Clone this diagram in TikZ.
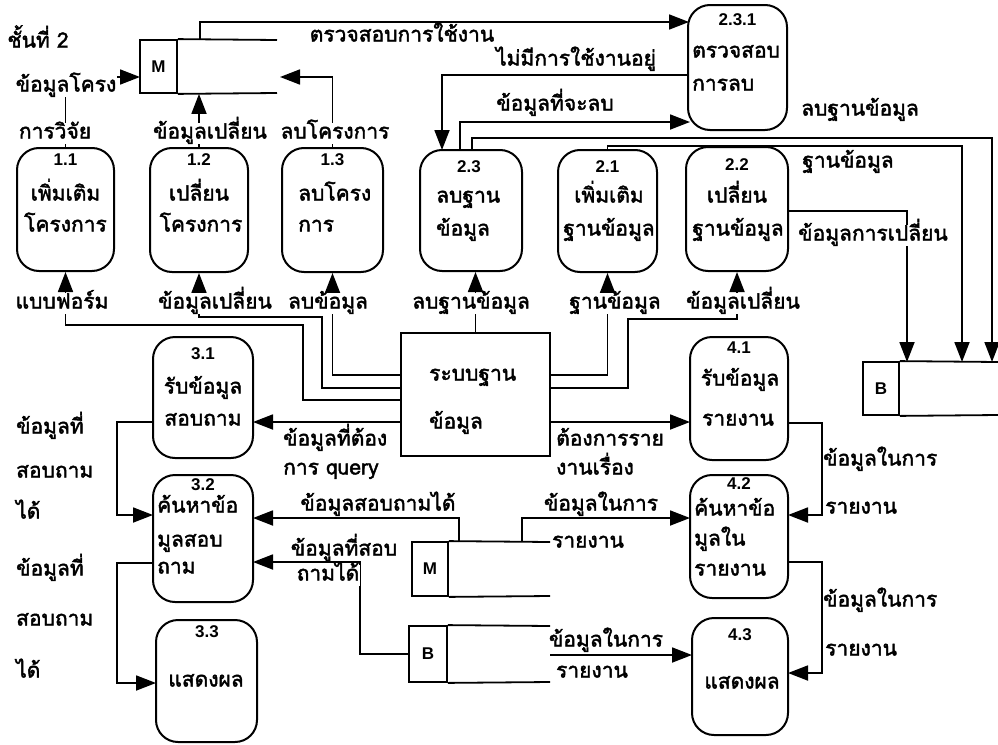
\documentclass[tikz,border=0pt]{standalone}
\usepackage{fontspec}
\newfontfamily\thai[Script=Thai,FakeBold=2]{Loma}
\newfontfamily\lat{Liberation Sans}
\usetikzlibrary{arrows.meta}
\newcommand\mkproc[5]{\node[proc,minimum width=#4pt,minimum height=#5pt] (#1) at (#2,#3) {};}
\begin{document}
\begin{tikzpicture}[x=1pt,y=-1pt,
 proc/.style={draw,line width=2pt,rounded corners=22pt,inner sep=0pt},
 store/.style={draw,line width=1.8pt,inner sep=0pt,font=\lat\bfseries\fontsize{17}{19}\selectfont},
 flow/.style={line width=1.8pt,-{Triangle[length=20pt,width=15pt]}},
 plain/.style={line width=1.8pt},
 txt/.style={font=\thai\fontsize{21}{23}\selectfont,inner sep=1pt,text height=15pt,text depth=4pt},
 wtxt/.style={txt,fill=white},
 num/.style={font=\lat\bfseries\fontsize{17}{19}\selectfont,inner sep=1pt},
]
\useasboundingbox (0,0) rectangle (998,744);

% ---------- processes ----------
\mkproc{p11}{65.5}{209.5}{97}{123}
\mkproc{p12}{199}{210}{98}{124}
\mkproc{p13}{332.5}{210}{101}{124}
\mkproc{p23}{471}{210.5}{102}{121}
\mkproc{p21}{607.5}{211}{99}{122}
\mkproc{p22}{737}{209}{102}{124}
\mkproc{p231}{737.5}{67.5}{99}{125}
\mkproc{p31}{203}{397.5}{100}{121}
\mkproc{p32}{203}{538.5}{100}{127}
\mkproc{p33}{206.5}{681}{101}{122}
\mkproc{p41}{739}{398.5}{98}{123}
\mkproc{p42}{739}{536.5}{98}{123}
\mkproc{p43}{740}{676.5}{96}{117}

% database system box
\node[draw,line width=1.8pt,minimum width=149pt,minimum height=123pt,inner sep=0pt] (db) at (475.5,394.5) {};

% ---------- data stores ----------
\node[store,minimum width=37pt,minimum height=53pt] (mU) at (158.5,66.5) {M};
\draw[plain] (mU.north east) -- (277,40) (mU.south east) -- (277,93);
\node[store,minimum width=36pt,minimum height=53pt] (bU) at (881,388.5) {B};
\draw[plain] (bU.north east) -- (998,362) (bU.south east) -- (998,415);
\node[store,minimum width=36pt,minimum height=54pt] (mL) at (430,569) {M};
\draw[plain] (mL.north east) -- (550,542) (mL.south east) -- (550,596);
\node[store,minimum width=38pt,minimum height=56pt] (bL) at (428,654) {B};
\draw[plain] (bL.north east) -- (550,626) (bL.south east) -- (550,682);

% ---------- helper coordinates ----------
\coordinate (mUa) at (140,77);
\coordinate (mUb) at (280,77);
\coordinate (mUt) at (200,40);
\coordinate (c231a) at (689,22);
\coordinate (c231b) at (688,75);
\coordinate (c231c) at (690,122);
\coordinate (p23a) at (442,150);
\coordinate (p23b) at (460,150);
\coordinate (p23c) at (472,150);
\coordinate (p22r) at (788,211);

% ---------- connectors ----------
\draw[flow] (p11.north) |- (mUa);
\draw[flow] (p12.north) -- (p12.north |- mU.south);
\draw[flow] (p13.north) |- (mUb);
\draw[flow] (mUt) |- (c231a);
\draw[flow] (c231b) -| (p23a);
\draw[flow] (p23b) |- (c231c);
\draw[flow] (p23c) |- (992,138) -- (992,362);
\draw[flow] (p21.north) |- (962,146) -- (962,362);
\draw[flow] (p22r) -| (907,362);

\draw[flow] (401,400) -| (303,325) -| (p11.south);
\draw[flow] (401,388) -| (322,317) -| (p12.south);
\draw[flow] (401,375) -| (p13.south);
\draw[flow] (db.north) -- (db.north |- p23.south);
\draw[flow] (550,375) -| (p21.south);
\draw[flow] (550,388) -| (628,319) -| (p22.south);

\draw[flow] (401,422) -- (253,422);
\draw[flow] (550,422) -- (690,422);
\draw[flow] (459,542) |- (253,518);
\draw[flow] (522,542) |- (690,518);
\draw[flow] (bL.west) -| (360,562) -- (253,562);
\draw[flow] (550,655) -- (692,655);

\draw[flow] (153,422) -- (117,422) |- (153,515);
\draw[flow] (153,563) -- (117,563) |- (156,683);
\draw[flow] (788,423) -- (822,423) |- (788,515);
\draw[flow] (788,562) -- (822,562) |- (788,673);

% ---------- process texts ----------
\node[num] (n11) at (65.5,160) {1.1};
\node[txt] (t11a) at (65.5,195) {เพิ่มเติม};
\node[txt] (t11b) at (65.5,226) {โครงการ};
\node[num] (n12) at (199,160) {1.2};
\node[txt] (t12a) at (199,195) {เปลี่ยน};
\node[txt] (t12b) at (201,226) {โครงการ};
\node[num] (n13) at (332.5,160) {1.3};
\node[txt,anchor=west] (t13a) at (297,195) {ลบโครง};
\node[txt,anchor=west] (t13b) at (297,226) {การ};
\node[num] (n23) at (469,167) {2.3};
\node[txt,anchor=west] (t23a) at (435,197) {ลบฐาน};
\node[txt,anchor=west] (t23b) at (435,230) {ข้อมูล};
\node[num] (n21) at (607.5,167) {2.1};
\node[txt] (t21a) at (609,197) {เพิ่มเติม};
\node[txt] (t21b) at (609,230) {ฐานข้อมูล};
\node[num] (n22) at (737,165) {2.2};
\node[txt] (t22a) at (737,197) {เปลี่ยน};
\node[txt] (t22b) at (738,230) {ฐานข้อมูล};
\node[num] (n231) at (737.5,20) {2.3.1};
\node[txt,anchor=west] (t231a) at (691,52) {ตรวจสอบ};
\node[txt,anchor=west] (t231b) at (691,85) {การลบ};

\node[txt,anchor=west] (tdba) at (428,375) {ระบบฐาน};
\node[txt,anchor=west] (tdbb) at (428,423) {ข้อมูล};

\node[num] (n31) at (203,354) {3.1};
\node[txt] (t31a) at (203,388) {รับข้อมูล};
\node[txt] (t31b) at (203,420) {สอบถาม};
\node[num] (n32) at (203,485) {3.2};
\node[txt,anchor=west] (t32a) at (156,507) {ค้นหาข้อ};
\node[txt,anchor=west] (t32b) at (156,541) {มูลสอบ};
\node[txt,anchor=west] (t32c) at (156,568) {ถาม};
\node[num] (n33) at (207,632) {3.3};
\node[txt] (t33a) at (206,681) {แสดงผล};
\node[num] (n41) at (739,348) {4.1};
\node[txt] (t41a) at (740,380) {รับข้อมูล};
\node[txt] (t41b) at (738,420) {รายงาน};
\node[num] (n42) at (739,484) {4.2};
\node[txt,anchor=west] (t42a) at (693,510) {ค้นหาข้อ};
\node[txt,anchor=west] (t42b) at (693,540) {มูลใน};
\node[txt,anchor=west] (t42c) at (693,570) {รายงาน};
\node[num] (n43) at (740,635) {4.3};
\node[txt] (t43a) at (742,683) {แสดงผล};

% ---------- flow labels ----------
\node[txt] (title) at (38,42) {ชั้นที่ 2};
\node[wtxt] (l1a) at (66,86) {ข้อมูลโครง};
\node[wtxt] (l1b) at (55,133) {การวิจัย};
\node[wtxt] (l2) at (210,133) {ข้อมูลเปลี่ยน};
\node[wtxt] (l3) at (335,133) {ลบโครงการ};
\node[txt] (l4) at (402,36) {ตรวจสอบการใช้งาน};
\node[txt] (l5) at (576,60) {ไม่มีการใช้งานอยู่};
\node[txt] (l6) at (555,105) {ข้อมูลที่จะลบ};
\node[txt] (l7) at (860,110) {ลบฐานข้อมูล};
\node[txt] (l8) at (848,162) {ฐานข้อมูล};
\node[wtxt] (l9) at (873,235) {ข้อมูลการเปลี่ยน};

\node[wtxt] (b1) at (62,303) {แบบฟอร์ม};
\node[wtxt] (b2) at (215,303) {ข้อมูลเปลี่ยน};
\node[wtxt] (b3) at (328,303) {ลบข้อมูล};
\node[wtxt] (b4) at (471,303) {ลบฐานข้อมูล};
\node[wtxt] (b5) at (615,303) {ฐานข้อมูล};
\node[wtxt] (b6) at (743,303) {ข้อมูลเปลี่ยน};

\node[txt,anchor=west] (q1) at (282,440) {ข้อมูลที่ต้อง};
\node[txt,anchor=west] (q2) at (282,469) {การ query};
\node[txt,anchor=west] (r1) at (555,440) {ต้องการราย};
\node[txt,anchor=west] (r2) at (555,469) {งานเรื่อง};
\node[txt] (s1) at (378,505) {ข้อมูลสอบถามได้};
\node[txt] (s2) at (344,550) {ข้อมูลที่สอบ};
\node[wtxt] (s3) at (328,575) {ถามได้};
\node[txt] (m1) at (601,505) {ข้อมูลในการ};
\node[txt] (m2) at (588,542) {รายงาน};
\node[txt] (u1) at (606,641) {ข้อมูลในการ};
\node[txt] (u2) at (592,672) {รายงาน};

\node[txt,anchor=west] (la1) at (15,428) {ข้อมูลที่};
\node[txt,anchor=west] (la2) at (15,472) {สอบถาม};
\node[txt,anchor=west] (la3) at (15,513) {ได้};
\node[txt,anchor=west] (lb1) at (15,570) {ข้อมูลที่};
\node[txt,anchor=west] (lb2) at (15,620) {สอบถาม};
\node[txt,anchor=west] (lb3) at (15,672) {ได้};

\node[txt,anchor=west] (ra1) at (822,460) {ข้อมูลในการ};
\node[txt,anchor=west] (ra2) at (824,508) {รายงาน};
\node[txt,anchor=west] (rb1) at (822,601) {ข้อมูลในการ};
\node[txt,anchor=west] (rb2) at (824,650) {รายงาน};
\end{tikzpicture}
\end{document}
